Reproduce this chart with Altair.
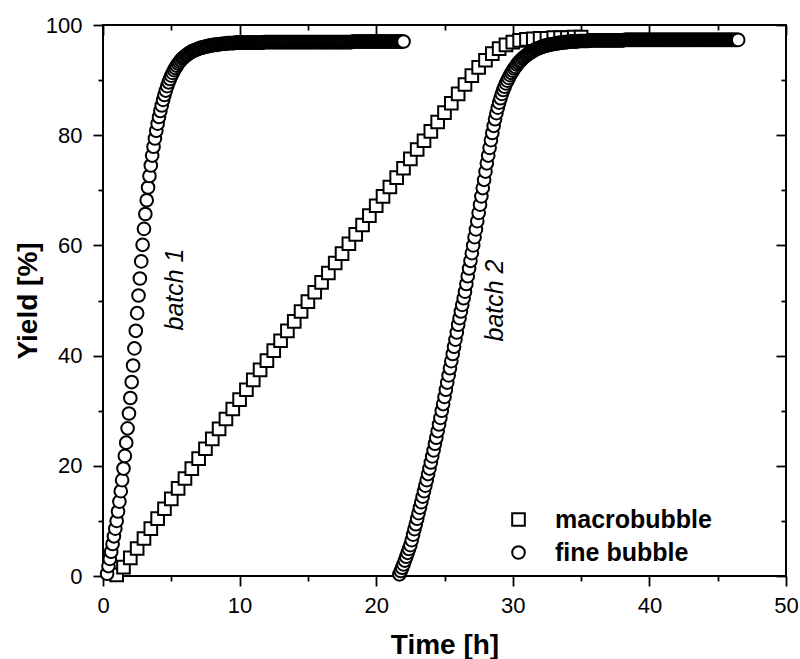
import altair as alt
import pandas as pd

FONT = "Liberation Sans"

# Macrobubble run: one reading every 0.5 h starting at 1.0 h
MACRO_T0, MACRO_DT = 1.0, 0.5
macro_yield = [
    0.2, 1.6, 3.3, 5.0, 6.8, 8.6, 10.4, 12.2, 14.0, 15.9,
    17.7, 19.5, 21.3, 23.1, 24.9, 26.7, 28.5, 30.3, 32.0, 33.8,
    35.6, 37.4, 39.1, 40.9, 42.7, 44.5, 46.2, 48.0, 49.8, 51.5,
    53.3, 55.0, 56.8, 58.5, 60.3, 62.0, 63.7, 65.4, 67.2, 68.9,
    70.6, 72.3, 74.0, 75.7, 77.4, 79.0, 80.7, 82.4, 84.1, 85.8,
    87.5, 89.2, 90.8, 92.3, 93.6, 94.8, 95.7, 96.4, 96.9, 97.2,
    97.4, 97.5, 97.6, 97.6, 97.7, 97.7, 97.7, 97.8, 97.8,
]

# Fine bubble runs: one reading every 0.1 h
FINE_DT = 0.1
BATCH1_T0 = 0.3
batch1_yield = [
    0.4, 1.8, 3.1, 4.4, 5.8, 7.2, 8.6, 10.0, 11.7, 13.5,
    15.4, 17.4, 19.5, 21.8, 24.2, 26.8, 29.5, 32.3, 35.2, 38.2,
    41.3, 44.5, 47.7, 50.9, 54.0, 57.1, 60.1, 63.0, 65.7, 68.2,
    70.5, 72.6, 74.5, 76.3, 77.9, 79.4, 80.8, 82.1, 83.3, 84.4,
    85.4, 86.4, 87.3, 88.1, 88.9, 89.6, 90.2, 90.8, 91.3, 91.8,
    92.2, 92.6, 93.0, 93.3, 93.6, 93.9, 94.1, 94.3, 94.5, 94.7,
    94.9, 95.0, 95.2, 95.3, 95.4, 95.5, 95.6, 95.7, 95.8, 95.9,
    95.9, 96.0, 96.1, 96.1, 96.2, 96.2, 96.3, 96.3, 96.4, 96.4,
    96.4, 96.5, 96.5, 96.5, 96.6, 96.6, 96.6, 96.6, 96.7, 96.7,
    96.7, 96.7, 96.7, 96.7, 96.8, 96.8, 96.8, 96.8, 96.8, 96.8,
    96.8, 96.8, 96.8, 96.8, 96.8, 96.8, 96.8, 96.8, 96.8, 96.8,
    96.8, 96.8, 96.8, 96.8, 96.8, 96.9, 96.9, 96.9, 96.9, 96.9,
    96.9, 96.9, 96.9, 96.9, 96.9, 96.9, 96.9, 96.9, 96.9, 96.9,
    96.9, 96.9, 96.9, 96.9, 96.9, 96.9, 96.9, 96.9, 96.9, 96.9,
    96.9, 96.9, 96.9, 96.9, 96.9, 96.9, 96.9, 96.9, 96.9, 96.9,
    96.9, 96.9, 96.9, 96.9, 96.9, 96.9, 96.9, 96.9, 96.9, 96.9,
    96.9, 96.9, 96.9, 96.9, 96.9, 96.9, 96.9, 96.9, 96.9, 96.9,
    96.9, 96.9, 96.9, 96.9, 96.9, 96.9, 96.9, 96.9, 96.9, 96.9,
    97.0, 97.0, 97.0, 97.0, 97.0, 97.0, 97.0, 97.0, 97.0, 97.0,
    97.0, 97.0, 97.0, 97.0, 97.0, 97.0, 97.0, 97.0, 97.0, 97.0,
    97.0, 97.0, 97.0, 97.0, 97.0, 97.0, 97.0, 97.0, 97.0, 97.0,
    97.0, 97.0, 97.0, 97.0, 97.0, 97.0, 97.0, 97.0,
]

BATCH2_T0 = 21.7
batch2_yield = [
    0.3, 0.9, 1.5, 2.1, 2.8, 3.5, 4.2, 4.9, 5.6, 6.5,
    7.5, 8.5, 9.4, 10.4, 11.4, 12.4, 13.4, 14.4, 15.4, 16.4,
    17.4, 18.5, 19.5, 20.6, 21.7, 22.8, 24.0, 25.1, 26.3, 27.5,
    28.7, 30.0, 31.2, 32.5, 33.8, 35.1, 36.4, 37.7, 39.0, 40.3,
    41.6, 42.9, 44.2, 45.6, 46.8, 48.0, 49.2, 50.4, 51.6, 53.0,
    54.4, 55.8, 57.2, 58.6, 60.0, 61.5, 62.9, 64.4, 65.9, 67.4,
    68.9, 70.4, 71.9, 73.4, 74.9, 76.3, 77.7, 79.1, 80.4, 81.7,
    82.9, 84.0, 85.0, 85.9, 86.7, 87.5, 88.2, 88.8, 89.4, 89.9,
    90.4, 90.9, 91.3, 91.7, 92.1, 92.4, 92.8, 93.1, 93.4, 93.6,
    93.9, 94.1, 94.3, 94.5, 94.7, 94.9, 95.0, 95.2, 95.3, 95.5,
    95.6, 95.7, 95.8, 95.9, 96.0, 96.1, 96.2, 96.2, 96.3, 96.4,
    96.4, 96.5, 96.5, 96.6, 96.6, 96.7, 96.7, 96.7, 96.8, 96.8,
    96.8, 96.9, 96.9, 96.9, 97.0, 97.0, 97.0, 97.0, 97.0, 97.0,
    97.0, 97.1, 97.1, 97.1, 97.1, 97.1, 97.1, 97.1, 97.1, 97.2,
    97.2, 97.2, 97.2, 97.2, 97.2, 97.2, 97.2, 97.2, 97.2, 97.2,
    97.2, 97.2, 97.2, 97.2, 97.2, 97.2, 97.2, 97.2, 97.2, 97.2,
    97.2, 97.2, 97.2, 97.2, 97.2, 97.3, 97.3, 97.3, 97.3, 97.3,
    97.3, 97.3, 97.3, 97.3, 97.3, 97.3, 97.3, 97.3, 97.3, 97.3,
    97.3, 97.3, 97.3, 97.3, 97.3, 97.3, 97.3, 97.3, 97.3, 97.3,
    97.3, 97.3, 97.3, 97.3, 97.3, 97.3, 97.3, 97.3, 97.3, 97.3,
    97.3, 97.3, 97.3, 97.3, 97.3, 97.3, 97.3, 97.3, 97.3, 97.3,
    97.3, 97.3, 97.3, 97.3, 97.3, 97.3, 97.3, 97.3, 97.3, 97.3,
    97.3, 97.3, 97.3, 97.3, 97.3, 97.3, 97.3, 97.3, 97.3, 97.3,
    97.3, 97.3, 97.3, 97.3, 97.3, 97.3, 97.3, 97.3, 97.3, 97.3,
    97.3, 97.3, 97.3, 97.3, 97.3, 97.3, 97.3, 97.3, 97.3,
]

SERIES = ["macrobubble", "fine bubble"]
SHAPES = ["square", "circle"]
INK = ["black", "black"]

notes_label = ["batch 1", "batch 2"]
notes_t = [5.3, 28.7]
notes_y = [52.0, 50.0]

x_major = [0, 10, 20, 30, 40, 50]
x_minor = [5, 15, 25, 35, 45]
y_major = [0, 20, 40, 60, 80, 100]
y_minor = [10, 30, 50, 70, 90]


def run(t0, dt, ys, name):
    return pd.DataFrame({
        "t": [round(t0 + i * dt, 2) for i in range(len(ys))],
        "y": ys,
        "series": name,
    })


points_df = pd.concat([
    run(MACRO_T0, MACRO_DT, macro_yield, "macrobubble"),
    run(BATCH1_T0, FINE_DT, batch1_yield, "fine bubble"),
    run(BATCH2_T0, FINE_DT, batch2_yield, "fine bubble"),
], ignore_index=True)

notes_df = pd.DataFrame({"t": notes_t, "y": notes_y, "label": notes_label})

W, H = 683, 551
xs = alt.Scale(domain=[0, 50], nice=False, zero=False)
ys = alt.Scale(domain=[0, 100], nice=False, zero=False)

common = dict(grid=False, domain=False, tickColor="black", tickWidth=1.8,
              labelColor="black", labelFont=FONT, titleFont=FONT,
              titleColor="black")

ax_bottom = alt.Axis(orient="bottom", values=x_major, tickSize=10,
                     labelFontSize=22, labelPadding=9, format="d",
                     labelFlush=False, labelOverlap=False,
                     title="Time [h]", titleFontSize=28, titleFontWeight="bold",
                     titleX=W / 2, titleY=77, titleAlign="center",
                     titleBaseline="alphabetic", **common)
ax_left = alt.Axis(orient="left", values=y_major, tickSize=10,
                   labelFontSize=22, labelPadding=11, format="d",
                   labelFlush=False, labelOverlap=False,
                   title="Yield [%]", titleFontSize=28, titleFontWeight="bold",
                   titleAngle=270, titleX=-75, titleY=H / 2,
                   titleAlign="center", titleBaseline="middle", **common)
ax_bottom_minor = alt.Axis(orient="bottom", values=x_minor, tickSize=5,
                           labels=False, title=None, **common)
ax_left_minor = alt.Axis(orient="left", values=y_minor, tickSize=5,
                         labels=False, title=None, **common)
# mirrored axes: shifted inside the frame so their ticks point inward
ax_top = alt.Axis(orient="top", values=x_major, tickSize=10, offset=-10,
                  labels=False, title=None, **common)
ax_right = alt.Axis(orient="right", values=y_major, tickSize=10, offset=-10,
                    labels=False, title=None, **common)
ax_top_minor = alt.Axis(orient="top", values=x_minor, tickSize=5, offset=-5,
                        labels=False, title=None, **common)
ax_right_minor = alt.Axis(orient="right", values=y_minor, tickSize=5, offset=-5,
                          labels=False, title=None, **common)

legend = alt.Legend(
    orient="none", legendX=403, legendY=482, title=None,
    labelFont=FONT, labelFontSize=25, labelFontWeight="bold",
    labelColor="black", labelOffset=24, rowPadding=7, padding=0,
    symbolSize=160, symbolStrokeWidth=2, symbolFillColor="white",
)

points = alt.Chart(points_df).mark_point(
    filled=False, fill="white", strokeWidth=2,
    opacity=1, fillOpacity=1, size=160,
).encode(
    x=alt.X("t:Q", scale=xs, axis=ax_bottom),
    y=alt.Y("y:Q", scale=ys, axis=ax_left),
    color=alt.Color("series:N", scale=alt.Scale(domain=SERIES, range=INK),
                    legend=legend),
    shape=alt.Shape("series:N", scale=alt.Scale(domain=SERIES, range=SHAPES),
                    legend=legend),
)

notes = alt.Chart(notes_df).mark_text(
    angle=270, font=FONT, fontSize=25, fontStyle="italic", color="black",
    align="center", baseline="middle",
).encode(
    x=alt.X("t:Q", scale=xs, axis=ax_bottom_minor),
    y=alt.Y("y:Q", scale=ys, axis=ax_left_minor),
    text="label:N",
)

frame_major = alt.Chart(notes_df).mark_point(opacity=0).encode(
    x=alt.X("t:Q", scale=xs, axis=ax_top),
    y=alt.Y("y:Q", scale=ys, axis=ax_right),
)
frame_minor = alt.Chart(notes_df).mark_point(opacity=0).encode(
    x=alt.X("t:Q", scale=xs, axis=ax_top_minor),
    y=alt.Y("y:Q", scale=ys, axis=ax_right_minor),
)

chart = alt.layer(points, notes, frame_major, frame_minor).resolve_axis(
    x="independent", y="independent"
).properties(
    width=W, height=H,
    autosize="none",
    padding={"left": 103, "top": 25, "right": 14, "bottom": 83},
    background="white",
).configure_view(
    stroke="black", strokeWidth=2,
)

chart.save("out.html", embed_options={"renderer": "svg", "actions": False})
